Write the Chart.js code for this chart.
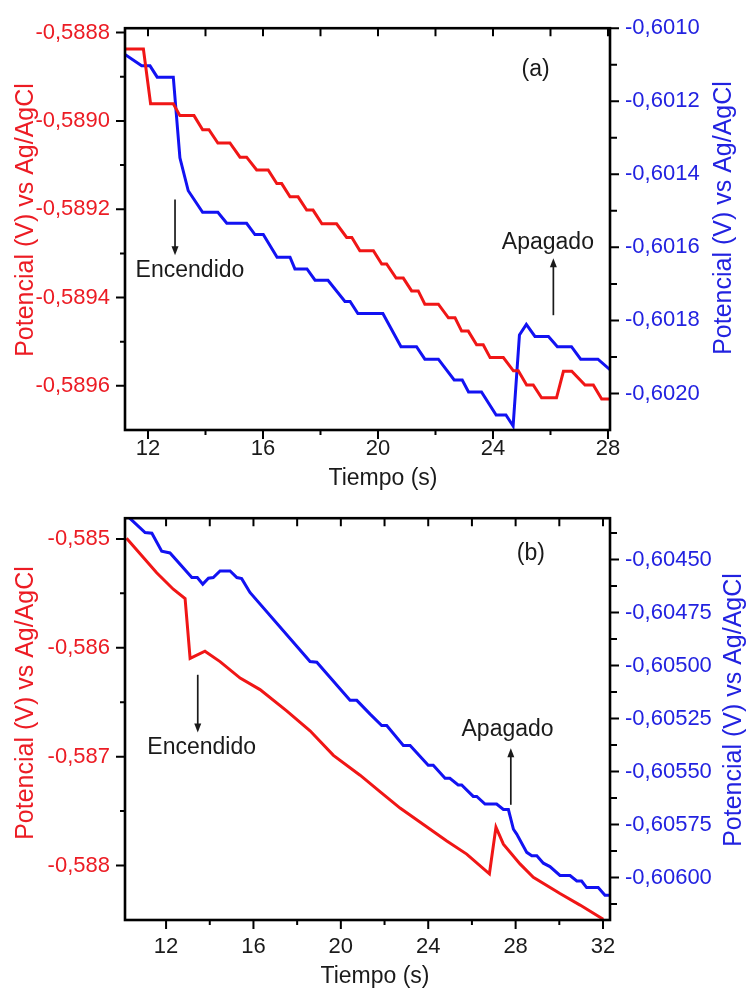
<!DOCTYPE html>
<html>
<head>
<meta charset="utf-8">
<script src="https://cdn.jsdelivr.net/npm/chart.js@4.4.1/dist/chart.umd.min.js"></script>
<style>
  html, body { margin: 0; padding: 0; background: #fff; }
  #wrap { position: relative; width: 746px; height: 990px; }
  canvas { position: absolute; left: 0; }
  #chartA { top: 0; }
  #chartB { top: 490px; }
</style>
</head>
<body>
<div id="wrap">
  <canvas id="chartA" width="746" height="490"></canvas>
  <canvas id="chartB" width="746" height="500"></canvas>
</div>
<script>
// ---- panel (a) ----
const aRedTime = [11.2, 11.84, 12.09, 12.88, 13.11, 13.60, 13.90, 14.12, 14.43, 14.85, 15.20, 15.43, 15.78, 16.18,
  16.48, 16.65, 16.94, 17.22, 17.52, 17.74, 18.05, 18.56, 18.91, 19.09, 19.37, 19.84, 20.13, 20.30, 20.63, 20.88,
  21.17, 21.40, 21.63, 22.10, 22.45, 22.68, 22.91, 23.14, 23.43, 23.66, 23.90, 24.36, 24.71, 24.88, 25.17, 25.40,
  25.69, 26.21, 26.45, 26.74, 27.20, 27.49, 27.78, 28.07];
const aRedPot = [-0.588837, -0.588837, -0.588961, -0.588961, -0.588988, -0.588988, -0.589020, -0.589020,
  -0.589050, -0.589050, -0.589082, -0.589082, -0.589111, -0.589111, -0.589142, -0.589142, -0.589172, -0.589172,
  -0.589202, -0.589202, -0.589233, -0.589233, -0.589264, -0.589264, -0.589294, -0.589294, -0.589324, -0.589324,
  -0.589356, -0.589356, -0.589385, -0.589385, -0.589415, -0.589415, -0.589446, -0.589446, -0.589476, -0.589476,
  -0.589507, -0.589507, -0.589536, -0.589536, -0.589566, -0.589566, -0.589598, -0.589598, -0.589627, -0.589627,
  -0.589567, -0.589567, -0.589598, -0.589598, -0.589630, -0.589630];
const aBlueTime = [11.2, 11.78, 12.07, 12.32, 12.88, 13.11, 13.40, 13.90, 14.43, 14.74, 15.43, 15.72, 16.01, 16.49,
  16.94, 17.11, 17.53, 17.81, 18.26, 18.85, 19.03, 19.30, 20.17, 20.80, 21.34, 21.63, 22.10, 22.65, 22.93, 23.15,
  23.60, 24.11, 24.45, 24.70, 24.92, 25.16, 25.46, 25.93, 26.24, 26.73, 27.05, 27.65, 28.07];
const aBluePot = [-0.601072, -0.601103, -0.601103, -0.601134, -0.601134, -0.601355, -0.601445, -0.601504,
  -0.601504, -0.601534, -0.601534, -0.601565, -0.601565, -0.601627, -0.601627, -0.601659, -0.601659, -0.601690,
  -0.601690, -0.601748, -0.601748, -0.601781, -0.601781, -0.601872, -0.601872, -0.601906, -0.601906, -0.601963,
  -0.601963, -0.601996, -0.601996, -0.602059, -0.602059, -0.602089, -0.601840, -0.601811, -0.601844, -0.601844,
  -0.601872, -0.601872, -0.601906, -0.601906, -0.601935];
const aTimeTicks = [12, 16, 20, 24, 28];
const aLeftTicks = [-0.5888, -0.5890, -0.5892, -0.5894, -0.5896];
const aRightTicks = [-0.6010, -0.6012, -0.6014, -0.6016, -0.6018, -0.6020];

// ---- panel (b) ----
const bRedTime = [10.19, 11.57, 12.33, 12.87, 13.10, 13.78, 14.47, 15.39, 16.30, 17.52, 18.59, 19.66, 20.88,
  21.79, 22.71, 23.78, 24.85, 25.76, 26.80, 27.10, 27.44, 28.20, 28.81, 30.03, 30.95, 32.01];
const bRedPot = [-0.584994, -0.585311, -0.585462, -0.585547, -0.586097, -0.586031, -0.586127, -0.586278,
  -0.586384, -0.586580, -0.586762, -0.586988, -0.587170, -0.587321, -0.587472, -0.587623, -0.587774, -0.587895,
  -0.588076, -0.587647, -0.587804, -0.587985, -0.588107, -0.588257, -0.588363, -0.588493];
const bBlueTime = [10.19, 10.43, 11.04, 11.35, 11.80, 12.18, 13.18, 13.43, 13.68, 13.94, 14.16, 14.47, 14.93,
  15.24, 15.46, 15.84, 18.59, 18.90, 20.42, 20.73, 21.34, 21.87, 22.10, 22.86, 23.17, 24.00, 24.23, 24.77, 24.99,
  25.37, 25.53, 26.06, 26.22, 26.60, 27.13, 27.44, 27.67, 27.90, 28.05, 28.51, 28.74, 28.97, 29.27, 29.57, 30.03,
  30.49, 30.80, 31.02, 31.25, 31.78, 32.09, 32.32];
const bBluePot = [-0.604291, -0.604314, -0.604373, -0.604376, -0.604461, -0.604469, -0.604585, -0.604585,
  -0.604616, -0.604588, -0.604585, -0.604554, -0.604554, -0.604585, -0.604590, -0.604655, -0.604981, -0.604984,
  -0.605164, -0.605164, -0.605229, -0.605283, -0.605283, -0.605377, -0.605377, -0.605470, -0.605470, -0.605532,
  -0.605532, -0.605563, -0.605563, -0.605617, -0.605617, -0.605653, -0.605653, -0.605679, -0.605679, -0.605772,
  -0.605795, -0.605881, -0.605897, -0.605897, -0.605932, -0.605948, -0.605990, -0.605990, -0.606016, -0.606016,
  -0.606047, -0.606047, -0.606083, -0.606083];
const bTimeTicks = [12, 16, 20, 24, 28, 32];
const bLeftTicks = [-0.585, -0.586, -0.587, -0.588];
const bRightTicks = [-0.60450, -0.60475, -0.60500, -0.60525, -0.60550, -0.60575, -0.60600];

const AXIS_TITLE = 'Potencial (V) vs Ag/AgCl';
const FONT = '"Liberation Sans", Arial, sans-serif';
const RED_TEXT = '#ec1c24';
const BLUE_TEXT = '#2222e0';
const RED_LINE = '#f01616';
const BLUE_LINE = '#1212f2';
const INK = '#1a1a1a';

function fmt(v, digits) { return v.toFixed(digits).replace('.', ','); }
function pairs(t, v) { return t.map((x, i) => ({ x, y: v[i] })); }
function fixTicks(values) { return scale => { scale.ticks = values.map(value => ({ value })); }; }

// majors plus the half-way minor ticks that fall inside the scale
function tickSet(majors, scale, horizontal) {
  const step = majors[1] - majors[0];
  const list = majors.map(v => ({ v, major: true }));
  for (let i = -1; i < majors.length; i++) list.push({ v: majors[0] + (i + 0.5) * step, major: false });
  return list.filter(t => {
    const p = scale.getPixelForValue(t.v);
    return horizontal ? (p >= scale.left - 0.5 && p <= scale.right + 0.5)
                      : (p >= scale.top - 0.5 && p <= scale.bottom - 4);
  });
}

const framePlugin = {
  id: 'frame',
  afterDraw(chart, args, opts) {
    const { ctx, chartArea: a, scales } = chart;
    const x = scales.x, yl = scales.y, yr = scales.y1;
    ctx.save();
    ctx.strokeStyle = '#000';
    ctx.lineWidth = 2;
    ctx.beginPath();
    tickSet(opts.xTicks, x, true).forEach(t => {
      const p = x.getPixelForValue(t.v);
      ctx.moveTo(p, a.bottom); ctx.lineTo(p, a.bottom + (t.major ? 9 : 5));
      ctx.moveTo(p, a.top); ctx.lineTo(p, a.top + 8);
    });
    tickSet(opts.leftTicks, yl, false).forEach(t => {
      const p = yl.getPixelForValue(t.v);
      ctx.moveTo(a.left, p); ctx.lineTo(a.left - (t.major ? 9 : 5), p);
    });
    tickSet(opts.rightTicks, yr, false).forEach(t => {
      const p = yr.getPixelForValue(t.v);
      ctx.moveTo(a.right, p); ctx.lineTo(a.right + (t.major ? 9 : 7), p);
    });
    ctx.stroke();
    ctx.lineWidth = 2.6;
    ctx.strokeRect(a.left, a.top, a.right - a.left, a.bottom - a.top);

    // axis titles
    opts.titles.forEach(t => {
      ctx.save();
      ctx.fillStyle = t.color;
      ctx.font = t.size + 'px ' + FONT;
      ctx.textAlign = 'center';
      ctx.textBaseline = 'alphabetic';
      ctx.translate(t.x, t.y);
      if (t.rotate) ctx.rotate(-Math.PI / 2);
      ctx.fillText(t.text, 0, 0);
      ctx.restore();
    });

    // annotations, placed in data units of the time and left potential axes
    ctx.fillStyle = INK;
    ctx.strokeStyle = INK;
    ctx.font = '23px ' + FONT;
    ctx.textAlign = 'center';
    ctx.textBaseline = 'alphabetic';
    opts.labels.forEach(l => ctx.fillText(l.text, x.getPixelForValue(l.t), yl.getPixelForValue(l.v)));
    ctx.lineWidth = 1.7;
    opts.arrows.forEach(ar => {
      const px = x.getPixelForValue(ar.t);
      const y0 = yl.getPixelForValue(ar.from), y1 = yl.getPixelForValue(ar.to);
      const dir = Math.sign(y1 - y0);
      ctx.beginPath();
      ctx.moveTo(px, y0); ctx.lineTo(px, y1 - dir * 6);
      ctx.stroke();
      ctx.beginPath();
      ctx.moveTo(px, y1); ctx.lineTo(px - 3.5, y1 - dir * 9); ctx.lineTo(px + 3.5, y1 - dir * 9);
      ctx.closePath();
      ctx.fill();
    });
    ctx.restore();
  }
};

function makePanel(id, p) {
  const tickFont = { family: FONT, size: 22 };
  return new Chart(document.getElementById(id), {
    type: 'line',
    data: {
      datasets: [
        { data: pairs(p.redT, p.redV), yAxisID: 'y', borderColor: RED_LINE, borderWidth: 3, pointRadius: 0, tension: 0, fill: false },
        { data: pairs(p.blueT, p.blueV), yAxisID: 'y1', borderColor: BLUE_LINE, borderWidth: 3, pointRadius: 0, tension: 0, fill: false }
      ]
    },
    options: {
      responsive: false,
      animation: false,
      events: [],
      layout: { padding: { top: 23, left: 0, right: 0, bottom: 0 } },
      plugins: {
        legend: { display: false },
        tooltip: { enabled: false },
        frame: {
          xTicks: p.xTicks, leftTicks: p.leftTicks, rightTicks: p.rightTicks,
          titles: p.titles, labels: p.labels, arrows: p.arrows
        }
      },
      scales: {
        x: {
          type: 'linear', min: p.xMin, max: p.xMax,
          afterBuildTicks: fixTicks(p.xTicks),
          afterFit: s => { s.height = p.xHeight; },
          grid: { display: false, tickLength: 0 },
          border: { display: false },
          ticks: { color: INK, font: { family: FONT, size: 22 }, padding: p.xPad, autoSkip: false, maxRotation: 0, callback: v => String(v) }
        },
        y: {
          type: 'linear', position: 'left', min: p.leftMin, max: p.leftMax,
          afterBuildTicks: fixTicks(p.leftTicks),
          afterFit: s => { s.width = 125; },
          grid: { display: false, tickLength: 0 },
          border: { display: false },
          ticks: { color: RED_TEXT, font: tickFont, padding: 15, autoSkip: false, callback: v => fmt(v, p.leftDigits) }
        },
        y1: {
          type: 'linear', position: 'right', min: p.rightMin, max: p.rightMax,
          afterBuildTicks: fixTicks(p.rightTicks),
          afterFit: s => { s.width = 136; },
          grid: { display: false, tickLength: 0 },
          border: { display: false },
          ticks: { color: BLUE_TEXT, font: tickFont, padding: 15, autoSkip: false, callback: v => fmt(v, p.rightDigits) }
        }
      }
    },
    plugins: [framePlugin]
  });
}

makePanel('chartA', {
  redT: aRedTime, redV: aRedPot, blueT: aBlueTime, blueV: aBluePot,
  xMin: 11.2, xMax: 28.07, xTicks: aTimeTicks, xHeight: 60, xPad: 6,
  leftMin: -0.5897, leftMax: -0.58879, leftTicks: aLeftTicks, leftDigits: 4,
  rightMin: -0.60210, rightMax: -0.6010, rightTicks: aRightTicks, rightDigits: 4,
  titles: [
    { text: AXIS_TITLE, x: 33, y: 220, rotate: true, color: RED_TEXT, size: 25 },
    { text: AXIS_TITLE, x: 731, y: 218, rotate: true, color: BLUE_TEXT, size: 25 },
    { text: 'Tiempo (s)', x: 383, y: 485, rotate: false, color: INK, size: 23 }
  ],
  labels: [
    { text: '(a)', t: 25.48, v: -0.588898 },
    { text: 'Encendido', t: 13.46, v: -0.589353 },
    { text: 'Apagado', t: 25.91, v: -0.589289 }
  ],
  arrows: [
    { t: 12.94, from: -0.589178, to: -0.589304 },
    { t: 26.10, from: -0.589440, to: -0.589311 }
  ]
});

makePanel('chartB', {
  redT: bRedTime, redV: bRedPot, blueT: bBlueTime, blueV: bBluePot,
  xMin: 10.12, xMax: 32.32, xTicks: bTimeTicks, xHeight: 70, xPad: 14,
  leftMin: -0.5885, leftMax: -0.58481, leftTicks: bLeftTicks, leftDigits: 3,
  rightMin: -0.6062, rightMax: -0.604305, rightTicks: bRightTicks, rightDigits: 5,
  titles: [
    { text: AXIS_TITLE, x: 33, y: 213, rotate: true, color: RED_TEXT, size: 25 },
    { text: AXIS_TITLE, x: 741, y: 220, rotate: true, color: BLUE_TEXT, size: 25 },
    { text: 'Tiempo (s)', x: 375, y: 493, rotate: false, color: INK, size: 23 }
  ],
  labels: [
    { text: '(b)', t: 28.70, v: -0.585190 },
    { text: 'Encendido', t: 13.63, v: -0.586980 },
    { text: 'Apagado', t: 27.63, v: -0.586809 }
  ],
  arrows: [
    { t: 13.45, from: -0.586248, to: -0.586777 },
    { t: 27.78, from: -0.587442, to: -0.586922 }
  ]
});
</script>
</body>
</html>
